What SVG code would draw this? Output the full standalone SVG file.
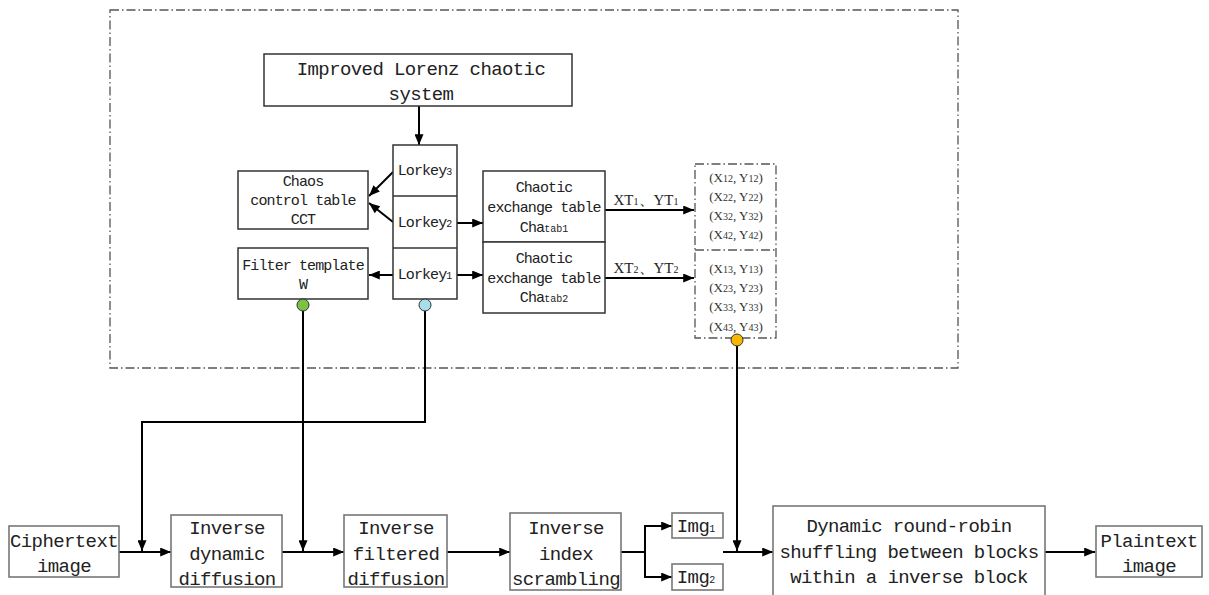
<svg xmlns="http://www.w3.org/2000/svg" width="1209" height="595" viewBox="0 0 1209 595">
<defs>
<marker id="arr" viewBox="0 0 12 10" refX="12" refY="5" markerWidth="13" markerHeight="9" markerUnits="userSpaceOnUse" orient="auto">
<path d="M0,0 L12,5 L0,10 z" fill="#000"/>
</marker>
<style>
.box{fill:#fff;stroke:#333;stroke-width:1.5}
.gbox{fill:#fff;stroke:#777;stroke-width:1.6}
.dash{fill:none;stroke:#555;stroke-width:1.3;stroke-dasharray:9,3,1.5,3}
.ln{fill:none;stroke:#000;stroke-width:2}
.a{fill:none;stroke:#000;stroke-width:2;marker-end:url(#arr)}
.big{font-family:"Liberation Mono",monospace;font-size:19px;letter-spacing:-0.6px;fill:#222;text-anchor:middle}
.mid{font-family:"Liberation Mono",monospace;font-size:15px;letter-spacing:-0.9px;fill:#222;text-anchor:middle}
.ser{font-family:"Liberation Serif",serif;font-size:15px;fill:#222;text-anchor:middle}
.crd{font-family:"Liberation Serif",serif;font-size:13px;fill:#333;text-anchor:middle}
.sub{font-size:10px;letter-spacing:0}
</style>
</defs>
<rect width="1209" height="595" fill="#fff"/>

<rect id="keyframe" class="dash" x="110" y="10" width="848" height="358"/>

<g id="connectors">
<line class="a" x1="419" y1="106" x2="419" y2="145"/>
<line class="a" x1="393" y1="172" x2="369" y2="196"/>
<line class="a" x1="393" y1="222" x2="369" y2="203"/>
<line class="a" x1="393" y1="275" x2="369" y2="275"/>
<line class="a" x1="457" y1="223" x2="483" y2="223"/>
<line class="a" x1="457" y1="275" x2="483" y2="275"/>
<line class="a" x1="605" y1="210" x2="694" y2="210"/>
<line class="a" x1="605" y1="278" x2="694" y2="278"/>
<polyline class="a" points="425,311 425,422 142,422 142,551"/>
<line class="a" x1="303" y1="311" x2="303" y2="551"/>
<line class="a" x1="737" y1="346" x2="737" y2="551"/>
<line class="a" x1="119" y1="552" x2="171" y2="552"/>
<line class="a" x1="282" y1="552" x2="344" y2="552"/>
<line class="a" x1="447" y1="552" x2="510" y2="552"/>
<polyline class="ln" points="621,552 645,552"/>
<polyline class="a" points="645,552 645,526 672,526"/>
<polyline class="a" points="645,552 645,577 672,577"/>
<line class="a" x1="723" y1="552" x2="773" y2="552"/>
<line class="a" x1="1045" y1="552" x2="1095" y2="552"/>
<text class="ser" x="646" y="205">XT<tspan class="sub">1</tspan>、YT<tspan class="sub">1</tspan></text>
<text class="ser" x="646" y="273">XT<tspan class="sub">2</tspan>、YT<tspan class="sub">2</tspan></text>
</g>

<g id="lorenz">
<rect class="box" x="264" y="54" width="308" height="52"/>
<text class="big" x="421" y="75">Improved Lorenz chaotic</text>
<text class="big" x="421" y="100">system</text>
</g>

<g id="lorkey">
<rect class="box" x="393" y="145" width="64" height="154"/>
<line class="box" x1="393" y1="196" x2="457" y2="196"/>
<line class="box" x1="393" y1="248" x2="457" y2="248"/>
<text class="mid" x="425" y="175">Lorkey<tspan class="sub">3</tspan></text>
<text class="mid" x="425" y="227">Lorkey<tspan class="sub">2</tspan></text>
<text class="mid" x="425" y="279">Lorkey<tspan class="sub">1</tspan></text>
</g>

<g id="cct">
<rect class="box" x="238" y="171" width="130" height="58"/>
<text class="mid" x="303" y="186">Chaos</text>
<text class="mid" x="303" y="205">control table</text>
<text class="mid" x="303" y="224">CCT</text>
</g>

<g id="filter">
<rect class="box" x="238" y="248" width="130" height="51"/>
<text class="mid" x="303" y="270">Filter template</text>
<text class="mid" x="303" y="289">W</text>
</g>

<g id="chatab1">
<rect class="box" x="483" y="171" width="122" height="71"/>
<text class="mid" x="544" y="192">Chaotic</text>
<text class="mid" x="544" y="212">exchange table</text>
<text class="mid" x="544" y="232">Cha<tspan class="sub">tab1</tspan></text>
</g>

<g id="chatab2">
<rect class="box" x="483" y="242" width="122" height="71"/>
<text class="mid" x="544" y="263">Chaotic</text>
<text class="mid" x="544" y="283">exchange table</text>
<text class="mid" x="544" y="302">Cha<tspan class="sub">tab2</tspan></text>
</g>

<g id="coords">
<rect class="dash" x="695" y="164" width="81" height="174"/>
<line class="dash" x1="695" y1="250" x2="776" y2="250"/>
<text class="crd" x="736" y="182">(X<tspan class="sub">12</tspan>, Y<tspan class="sub">12</tspan>)</text>
<text class="crd" x="736" y="201">(X<tspan class="sub">22</tspan>, Y<tspan class="sub">22</tspan>)</text>
<text class="crd" x="736" y="220">(X<tspan class="sub">32</tspan>, Y<tspan class="sub">32</tspan>)</text>
<text class="crd" x="736" y="239">(X<tspan class="sub">42</tspan>, Y<tspan class="sub">42</tspan>)</text>
<text class="crd" x="736" y="273">(X<tspan class="sub">13</tspan>, Y<tspan class="sub">13</tspan>)</text>
<text class="crd" x="736" y="292">(X<tspan class="sub">23</tspan>, Y<tspan class="sub">23</tspan>)</text>
<text class="crd" x="736" y="311">(X<tspan class="sub">33</tspan>, Y<tspan class="sub">33</tspan>)</text>
<text class="crd" x="736" y="331">(X<tspan class="sub">43</tspan>, Y<tspan class="sub">43</tspan>)</text>
</g>

<g id="dots">
<circle cx="303" cy="305" r="6" fill="#7cc144" stroke="#333" stroke-width="1"/>
<circle cx="425" cy="305" r="6" fill="#a6dfe9" stroke="#333" stroke-width="1"/>
<circle cx="737" cy="340" r="6" fill="#f6b800" stroke="#333" stroke-width="1"/>
</g>

<g id="ciphertext">
<rect class="gbox" x="9" y="526" width="110" height="51"/>
<text class="big" x="64" y="547">Ciphertext</text>
<text class="big" x="64" y="572">image</text>
</g>

<g id="invdyn">
<rect class="gbox" x="171" y="515" width="111" height="72"/>
<text class="big" x="227" y="534">Inverse</text>
<text class="big" x="227" y="560">dynamic</text>
<text class="big" x="227" y="585">diffusion</text>
</g>

<g id="invfilt">
<rect class="gbox" x="344" y="515" width="103" height="72"/>
<text class="big" x="396" y="534">Inverse</text>
<text class="big" x="396" y="560">filtered</text>
<text class="big" x="396" y="585">diffusion</text>
</g>

<g id="invidx">
<rect class="gbox" x="510" y="513" width="111" height="77"/>
<text class="big" x="566" y="534">Inverse</text>
<text class="big" x="566" y="560">index</text>
<text class="big" x="566" y="585">scrambling</text>
</g>

<g id="img1">
<rect class="gbox" x="672" y="513" width="51" height="25"/>
<text class="big" x="696" y="532">Img<tspan class="sub">1</tspan></text>
</g>

<g id="img2">
<rect class="gbox" x="672" y="564" width="51" height="26"/>
<text class="big" x="696" y="583">Img<tspan class="sub">2</tspan></text>
</g>

<g id="roundrobin">
<rect class="gbox" x="773" y="506" width="272" height="92"/>
<text class="big" x="909" y="532">Dynamic round-robin</text>
<text class="big" x="909" y="558">shuffling between blocks</text>
<text class="big" x="909" y="583">within a inverse block</text>
</g>

<g id="plaintext">
<rect class="gbox" x="1096" y="526" width="106" height="51"/>
<text class="big" x="1149" y="547">Plaintext</text>
<text class="big" x="1149" y="572">image</text>
</g>
</svg>
